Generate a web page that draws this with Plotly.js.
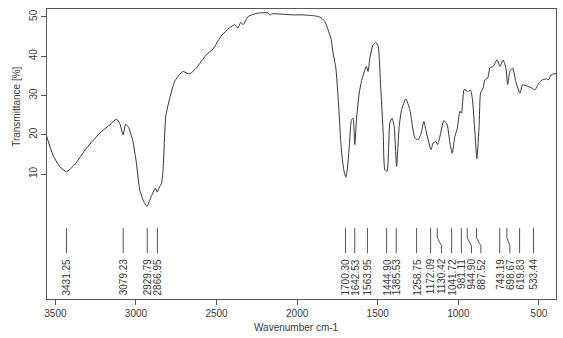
<!DOCTYPE html>
<html>
<head>
<meta charset="utf-8">
<script src="https://cdn.plot.ly/plotly-3.0.1.min.js"></script>
<style>html,body{margin:0;padding:0;background:#fff}#chart{width:563px;height:338px}</style>
</head>
<body>
<div id="chart"></div>
<script>
// Spectrum (wavenumber cm-1 vs transmittance %)
const wavenumber = [3555,3516,3473,3431,3380,3307,3225,3160,3121,3100,3080,3064,3045,3020,2998,2977,2950,2932,2905,2880,2868,2855,2842,2832,2815,2790,2760,2730,2708,2685,2666,2625,2563,2522,2470,2420,2387,2367,2350,2335,2304,2260,2232,2180,2170,2150,2100,2025,1963,1900,1870,1849,1828,1808,1790,1777,1760,1745,1730,1719,1708,1698,1688,1678,1663,1653,1642,1632,1615,1601,1580,1570,1560,1549,1529,1512,1497,1483,1466,1456,1442,1425,1411,1398,1383,1367,1352,1326,1301,1270,1249,1230,1214,1197,1170,1156,1139,1129,1115,1090,1069,1052,1038,1021,1007,990,980,964,939,924,912,897,885,871,862,846,835,818,804,784,759,742,722,705,694,680,663,643,618,601,575,545,525,500,477,452,440,425,410,390];
const transmittance = [19.7,14.9,11.9,10.6,12.4,16.6,20.4,22.6,24.0,22.8,20.0,22.7,21.8,18.5,13.0,6.0,2.8,1.8,4.3,6.4,5.4,6.7,7.5,11.0,24.7,29.4,33.6,35.3,36.1,35.7,35.5,37.0,40.4,41.8,45.2,47.2,48.0,47.2,48.6,48.0,50.1,50.8,51.0,51.0,50.5,50.8,50.7,50.5,50.5,50.3,50.1,49.7,48.8,46.7,44.5,40.8,37.0,29.0,18.5,13.6,10.5,9.2,11.5,16.2,23.8,24.2,17.5,23.8,30.6,33.6,36.5,37.4,36.1,39.5,42.9,43.5,42.5,33.2,20.4,11.1,10.7,23.0,24.2,22.1,11.9,22.1,26.4,29.1,26.4,19.2,18.7,20.5,23.4,20.4,16.2,17.9,18.3,17.5,19.4,23.6,22.5,17.9,15.3,19.6,21.5,26.0,25.5,31.5,31.0,31.4,28.9,20.4,13.9,22.1,30.6,31.9,34.0,34.4,37.0,37.4,39.1,37.4,39.0,37.0,32.8,36.1,37.0,33.5,30.6,32.7,32.4,31.9,31.4,33.2,34.0,34.2,34.0,35.2,35.5,35.5];

// Peak picks
const peakWavenumbers = [3431.25,3079.23,2929.79,2866.95,1700.30,1642.53,1563.95,1444.90,1385.53,1258.75,1172.09,1130.42,1041.72,981.11,944.90,887.52,743.19,698.67,619.83,533.44];
const peakLabels = ["3431.25","3079.23","2929.79","2866.95","1700.30","1642.53","1563.95","1444.90","1385.53","1258.75","1172.09","1130.42","1041.72","981.11","944.90","887.52","743.19","698.67","619.83","533.44"];
// where each label sits (shifted when labels would collide)
const peakLabelAt = [3431.25,3079.23,2929.79,2866.95,1700.30,1642.53,1563.95,1444.90,1385.53,1258.75,1172.09,1104,1041.72,981.11,918,860,743.19,680,619.83,533.44];

const xTicks = [3500,3000,2500,2000,1500,1000,500];
const yTicks = [10,20,30,40,50];

const FONT = "Liberation Sans, Arial, sans-serif";
const TXT = "#3a3a3a";
const AX = "#555";

// leader lines
const lx = [], ly = [];
const yTop = -3.75, yB1 = -6.2, yB2 = -8.25, yBot = -10.15;
for (let i = 0; i < peakWavenumbers.length; i++) {
  lx.push(peakWavenumbers[i], peakWavenumbers[i], peakLabelAt[i], peakLabelAt[i], null);
  ly.push(yTop, yB1, yB2, yBot, null);
}

const traces = [
  {x: wavenumber, y: transmittance, type: "scatter", mode: "lines",
   line: {color: "#333", width: 1, shape: "spline", smoothing: 0.5}, hoverinfo: "skip"},
  {x: lx, y: ly, type: "scatter", mode: "lines",
   line: {color: "#555", width: 1}, connectgaps: false, hoverinfo: "skip"}
];

const annotations = peakLabels.map((t, i) => ({
  x: peakLabelAt[i], y: -11.0, xref: "x", yref: "y", text: t, showarrow: false,
  textangle: -90, xanchor: "center", yanchor: "top",
  font: {family: FONT, size: 10, color: TXT}
}));
annotations.push({
  xref: "paper", yref: "y", x: -0.059, y: 27.1, text: "Transmittance [%]", showarrow: false,
  textangle: -90, xanchor: "center", yanchor: "middle",
  font: {family: FONT, size: 10, color: TXT}
});
annotations.push({
  xref: "paper", yref: "paper", x: 0.49, y: -0.097, text: "Wavenumber cm-1", showarrow: false,
  xanchor: "center", yanchor: "middle",
  font: {family: FONT, size: 10, color: TXT}
});

const layout = {
  width: 563, height: 338,
  margin: {l: 47, r: 7, t: 9, b: 39, pad: 0},
  paper_bgcolor: "#fff", plot_bgcolor: "#fff",
  showlegend: false,
  font: {family: FONT, size: 10, color: TXT},
  xaxis: {
    range: [3552, 394], tickvals: xTicks, ticktext: xTicks.map(String),
    showgrid: false, zeroline: false, showline: true, mirror: true,
    linecolor: AX, linewidth: 1, ticks: "outside", ticklen: 5, tickcolor: AX,
    tickfont: {family: FONT, size: 10, color: TXT}
  },
  yaxis: {
    range: [-21.8, 52], tickvals: yTicks, ticktext: yTicks.map(String),
    showgrid: false, zeroline: false, showline: true, mirror: true,
    linecolor: AX, linewidth: 1, ticks: "outside", ticklen: 5, tickcolor: AX,
    tickangle: -90, tickfont: {family: FONT, size: 10, color: TXT}
  },
  annotations: annotations
};

Plotly.newPlot("chart", traces, layout, {displayModeBar: false, staticPlot: true});
</script>
</body>
</html>
